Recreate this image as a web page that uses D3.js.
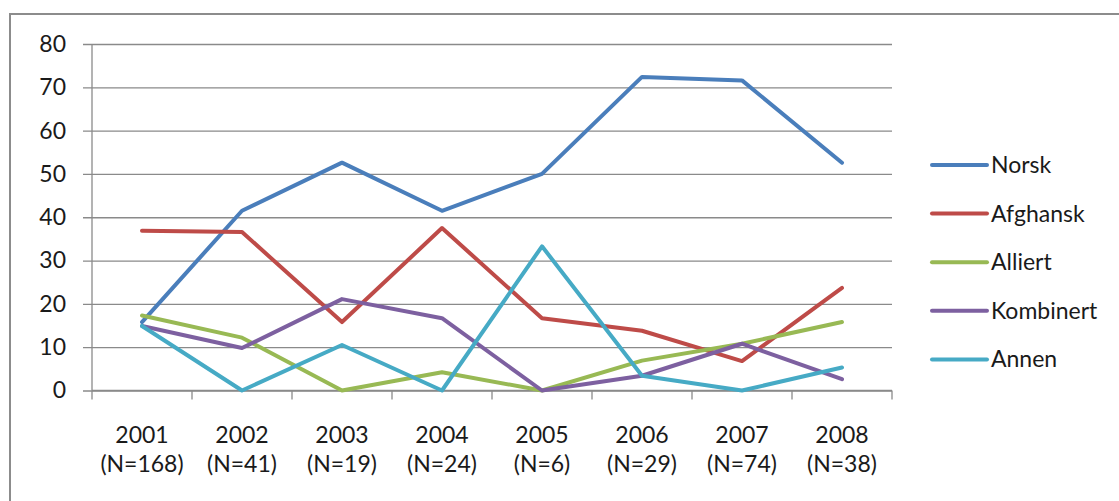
<!DOCTYPE html>
<html lang="no">
<head>
<meta charset="utf-8" />
<title>Norsk / Afghansk / Alliert</title>
<script src="https://d3js.org/d3.v7.min.js"></script>
<style>
  body { margin: 0; background: #fff; font-family: Lato, "Open Sans", sans-serif; }
  svg text { fill: #1a1a1a; }
</style>
</head>
<body>
<div id="chart"></div>
<script>
// data
var years = ["2001", "2002", "2003", "2004", "2005", "2006", "2007", "2008"];
var counts = ["(N=168)", "(N=41)", "(N=19)", "(N=24)", "(N=6)", "(N=29)", "(N=74)", "(N=38)"];
var seriesNames = ["Norsk", "Afghansk", "Alliert", "Kombinert", "Annen"];
var norsk     = [15.8, 41.5, 52.6, 41.5, 50.0, 72.4, 71.6, 52.6];
var afghansk  = [36.9, 36.6, 15.8, 37.5, 16.7, 13.8, 6.8, 23.7];
var alliert   = [17.3, 12.2, 0, 4.2, 0, 6.9, 10.8, 15.8];
var kombinert = [14.9, 9.8, 21.1, 16.7, 0, 3.4, 10.8, 2.6];
var annen     = [14.9, 0, 10.5, 0, 33.3, 3.4, 0, 5.3];
var yTicks = [0, 10, 20, 30, 40, 50, 60, 70, 80];

var colors = ["#4a7ebb", "#be4b48", "#98b954", "#7d60a0", "#46aac5"];
var allSeries = [norsk, afghansk, alliert, kombinert, annen];

var width = 1119, height = 501;
var fontSize = 23;
var svg = d3.select("#chart").append("svg")
    .attr("width", width)
    .attr("height", height);

// outer chart frame
svg.append("rect")
    .attr("x", 10).attr("y", 14)
    .attr("width", 1200).attr("height", 600)
    .attr("fill", "none")
    .attr("stroke", "#8c8c8c")
    .attr("stroke-width", 2);

var x = d3.scaleBand().domain(years).range([92, 892]);
var y = d3.scaleLinear().domain([0, 80]).range([390.5, 44]);

// gridlines + y ticks
svg.append("g")
    .attr("transform", "translate(92,0)")
    .call(d3.axisLeft(y).tickValues(yTicks).tickSize(-800).tickSizeOuter(0))
    .call(function(g) {
      g.select(".domain").remove();
      g.selectAll(".tick line")
        .attr("x1", -9)
        .attr("stroke", "#8a8a8a")
        .attr("stroke-width", 1.3);
      g.selectAll(".tick text")
        .attr("x", -26)
        .attr("font-size", fontSize)
        .attr("font-family", "Lato, sans-serif")
        .attr("fill", "#1a1a1a");
    });

// y axis line
svg.append("line")
    .attr("x1", 92).attr("x2", 92)
    .attr("y1", y(80)).attr("y2", y(0))
    .attr("stroke", "#8a8a8a").attr("stroke-width", 1.3);

// x axis with ticks at category boundaries
var xb = svg.append("g").attr("class", "xaxis");
xb.append("line")
    .attr("x1", 92).attr("x2", 892)
    .attr("y1", y(0)).attr("y2", y(0))
    .attr("stroke", "#8a8a8a").attr("stroke-width", 1.3);
var bounds = years.map(function(d) { return x(d); }).concat([x.range()[1]]);
xb.selectAll(".xt").data(bounds).enter().append("line")
    .attr("x1", function(d) { return d; })
    .attr("x2", function(d) { return d; })
    .attr("y1", y(0)).attr("y2", y(0) + 9)
    .attr("stroke", "#8a8a8a").attr("stroke-width", 1.3);

var lab = xb.selectAll(".xl").data(years).enter().append("text")
    .attr("text-anchor", "middle")
    .attr("font-size", fontSize)
    .attr("x", function(d) { return x(d) + x.bandwidth() / 2; });
lab.append("tspan")
    .attr("x", function(d) { return x(d) + x.bandwidth() / 2; })
    .attr("y", 443)
    .text(function(d) { return d; });
lab.append("tspan")
    .attr("x", function(d) { return x(d) + x.bandwidth() / 2; })
    .attr("y", 472)
    .text(function(d, i) { return counts[i]; });

// lines
var line = d3.line()
    .x(function(d, i) { return x(years[i]) + x.bandwidth() / 2; })
    .y(function(d) { return y(d); });

svg.selectAll(".series").data(allSeries).enter().append("path")
    .attr("d", line)
    .attr("fill", "none")
    .attr("stroke", function(d, i) { return colors[i]; })
    .attr("stroke-width", 4)
    .attr("stroke-linejoin", "round")
    .attr("stroke-linecap", "round");

// legend
var leg = svg.selectAll(".leg").data(seriesNames).enter().append("g")
    .attr("transform", function(d, i) { return "translate(932," + (165 + i * 48.6) + ")"; });
leg.append("line")
    .attr("x1", 0).attr("x2", 55)
    .attr("stroke", function(d, i) { return colors[i]; })
    .attr("stroke-width", 4)
    .attr("stroke-linecap", "round");
leg.append("text")
    .attr("x", 59)
    .attr("dy", "0.35em")
    .attr("font-size", fontSize)
    .text(function(d) { return d; });
</script>
</body>
</html>
